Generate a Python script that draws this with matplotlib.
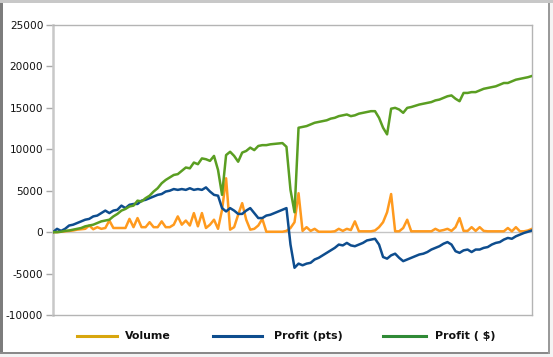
import matplotlib

matplotlib.use("Agg")
import matplotlib.pyplot as plt
from matplotlib.lines import Line2D
from matplotlib.patches import Rectangle

# -----------------------------
# DATA
# -----------------------------
volume = [
    0, 0, 50, 100, 150, 200, 300, 350, 400, 800,
    350, 600, 400, 500, 1400, 500, 500, 500, 500, 1600,
    600, 1700, 600, 600, 1200, 600, 600, 1300, 600, 600,
    900, 1900, 900, 1400, 800, 2300, 700, 2300, 500, 900,
    1500, 400, 2700, 6500, 300, 600, 2100, 3500, 1500, 300,
    400, 800, 1600, 50, 50, 50, 50, 50, 150, 500,
    1200, 4700, 150, 600, 150, 400, 50, 50, 50, 50,
    100, 400, 150, 400, 250, 1300, 100, 100, 100, 100,
    200, 600, 1200, 2400, 4600, 100, 100, 500, 1500, 100,
    100, 100, 100, 100, 100, 400, 150, 250, 400, 150,
    600, 1700, 150, 150, 600, 150, 600, 150, 100, 100,
    100, 100, 100, 500, 100, 600, 100, 100, 200, 400,
]

profit_pts = [
    0, 400, 150, 400, 800, 900, 1100, 1300, 1500, 1600,
    1900, 2000, 2300, 2600, 2300, 2600, 2700, 3200, 2900, 3300,
    3400, 3400, 3800, 3900, 4100, 4300, 4500, 4600, 4900, 5000,
    5200, 5100, 5200, 5100, 5300, 5100, 5200, 5100, 5400, 4900,
    4500, 4400, 2900, 2500, 2900, 2600, 2200, 2200, 2600, 2900,
    2300, 1700, 1700, 2000, 2100, 2300, 2500, 2700, 2900, -1500,
    -4300, -3800, -4000, -3800, -3700, -3300, -3100, -2800, -2500, -2200,
    -1900, -1500, -1600, -1300, -1600, -1700, -1500, -1300, -1000, -900,
    -800, -1500, -3000, -3200, -2800, -2600, -3100, -3500, -3300, -3100,
    -2900, -2700, -2600, -2400, -2100, -1900, -1700, -1400, -1200, -1500,
    -2300, -2500, -2200, -2100, -2400, -2100, -2100, -1900, -1800, -1500,
    -1300, -1200, -900, -700, -800, -500, -300, -100, 50, 200,
]

profit_usd = [
    0, 0, 50, 150, 200, 300, 400, 500, 700, 800,
    900, 1100, 1300, 1400, 1500, 1900, 2200, 2600, 2800, 3100,
    3200, 3800, 3700, 4100, 4400, 4900, 5300, 5900, 6300, 6600,
    6900, 7000, 7400, 7800, 7700, 8400, 8200, 8900, 8800, 8600,
    9200, 7500, 4500, 9300, 9700, 9200, 8500, 9600, 9800, 10200,
    9900, 10400, 10500, 10500, 10600, 10650, 10700, 10750, 10300, 5100,
    2400, 12600, 12700, 12800, 13000, 13200, 13300, 13400, 13500, 13700,
    13800, 14000, 14100, 14200, 14000, 14100, 14300, 14400, 14500, 14600,
    14600, 13800, 12600, 11800, 14900, 15000, 14800, 14400, 15000, 15100,
    15250, 15400, 15500, 15600, 15700, 15900, 16000, 16200, 16400, 16500,
    16100, 15800, 16800, 16800, 16900, 16900, 17100, 17300, 17400, 17500,
    17600, 17800, 18000, 18000, 18200, 18400, 18500, 18600, 18700, 18850,
]

series_names = ["Volume", "Profit (pts)", "Profit ( $)"]
y_ticks = [-10000, -5000, 0, 5000, 10000, 15000, 20000, 25000]

# -----------------------------
# FIGURE / FRAME
# -----------------------------
W, H = 553, 357
fig = plt.figure(figsize=(W / 100, H / 100), dpi=100)
fig.patch.set_facecolor("#f4f4f4")


def fx(px):
    return px / W


def fy(py):
    return 1 - py / H


# white chart card with gray window edges
fig.add_artist(Rectangle((fx(3), fy(352)), fx(546), 349 / H,
                         transform=fig.transFigure, facecolor="white",
                         edgecolor="none", zorder=0))
fig.add_artist(Rectangle((0, fy(354)), fx(3), 354 / H,
                         transform=fig.transFigure, facecolor="#7c7c7c",
                         edgecolor="none", zorder=1))
fig.add_artist(Rectangle((0, fy(354)), fx(550), 2 / H,
                         transform=fig.transFigure, facecolor="#8a8a8a",
                         edgecolor="none", zorder=1))
fig.add_artist(Rectangle((fx(548), fy(354)), fx(2), 352 / H,
                         transform=fig.transFigure, facecolor="#9a9a9a",
                         edgecolor="none", zorder=1))
fig.add_artist(Rectangle((0, fy(3)), 1, 3 / H,
                         transform=fig.transFigure, facecolor="#c8c8c8",
                         edgecolor="none", zorder=1))

# -----------------------------
# PLOT AREA
# -----------------------------
left, top, right, bottom = 53, 25, 532, 315
ax = fig.add_axes([fx(left), fy(bottom), fx(right - left), (bottom - top) / H])
ax.set_facecolor("white")

x = list(range(len(volume)))
ax.plot(x, volume, color="#ff9a1e", lw=1.8, zorder=3)
ax.plot(x, profit_pts, color="#0e4d8e", lw=1.8, zorder=3)
ax.plot(x, profit_usd, color="#5a9e22", lw=1.8, zorder=4)

ax.axhline(0, color="#c4c4c4", lw=1.0, zorder=2)

ax.set_xlim(0, len(volume) - 1)
ax.set_ylim(-10000, 25000)
ax.set_yticks(y_ticks)
ax.set_yticklabels([str(t) for t in y_ticks])
ax.set_xticks([])
ax.tick_params(axis="y", length=5, width=1, color="#a8a8a8", pad=2,
               labelsize=7.6, labelcolor="#111111")

for side in ["top", "right", "bottom"]:
    ax.spines[side].set_color("#b4b4b4")
    ax.spines[side].set_linewidth(1.0)
ax.spines["left"].set_color("#c8c8c8")
ax.spines["left"].set_linewidth(1.8)

# -----------------------------
# LEGEND (manual, below chart)
# -----------------------------
legend_items = [
    (77, 117, 125, "#d8a60e"),
    (213, 262, 274, "#0e4d8e"),
    (383, 426, 435, "#2f8a36"),
]
ly = 336
for (x0, x1, tx, col), name in zip(legend_items, series_names):
    fig.add_artist(Line2D([fx(x0), fx(x1)], [fy(ly), fy(ly)],
                          transform=fig.transFigure, color=col, lw=2.2))
    fig.text(fx(tx), fy(ly), name, fontsize=7.9, fontweight="bold",
             va="center", ha="left", color="#111111")

fig.savefig("out.png", dpi=100, facecolor=fig.get_facecolor())
